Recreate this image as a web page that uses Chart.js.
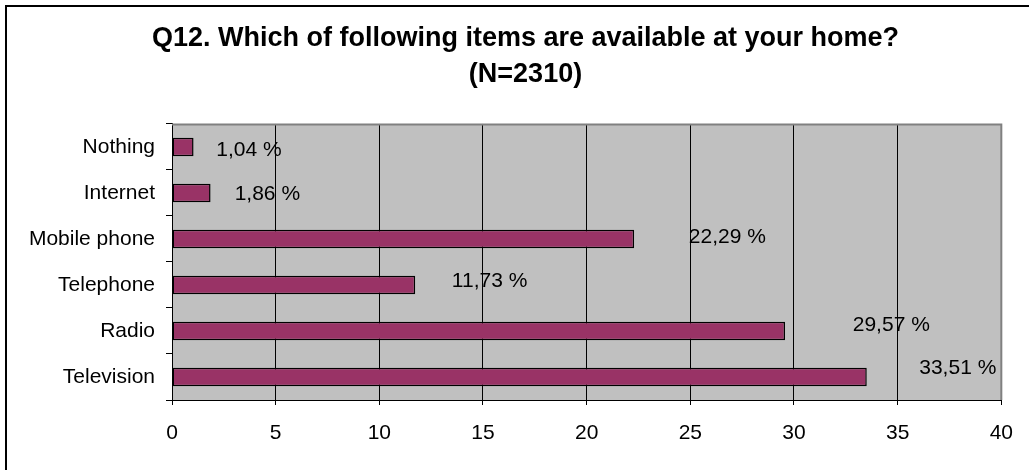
<!DOCTYPE html>
<html>
<head>
<meta charset="utf-8">
<script src="https://cdn.jsdelivr.net/npm/chart.js@4/dist/chart.umd.min.js"></script>
<style>
  html, body { margin: 0; padding: 0; background: #fff; overflow: hidden; }
  #wrap { position: relative; width: 1029px; height: 470px; }
  #frame { position: absolute; left: 5px; top: 5px; width: 1100px; height: 600px;
           border-left: 2px solid #000; border-top: 2px solid #000; pointer-events: none; }
  canvas { position: absolute; left: 0; top: 0; }
</style>
</head>
<body>
<div id="wrap">
  <canvas id="grafico" width="1029" height="470"></canvas>
  <div id="frame"></div>
</div>
<script>
var categorias = ['Nothing', 'Internet', 'Mobile phone', 'Telephone', 'Radio', 'Television'];
var valores = [1.04, 1.86, 22.29, 11.73, 29.57, 33.51];
var ticksX = [0, 5, 10, 15, 20, 25, 30, 35, 40];

var fuente = 'Liberation Sans, Arial, sans-serif';

// fondo gris del area de trazado y borde gris arriba / derecha
var fondoPlugin = {
    id: 'fondo',
    afterLayout: function (chart) {
        // el titulo en Excel queda un poco a la derecha
        if (chart.titleBlock) chart.titleBlock.left += 44;
    },
    beforeDraw: function (chart) {
        var a = chart.chartArea, ctx = chart.ctx;
        ctx.save();
        ctx.fillStyle = '#c0c0c0';
        ctx.fillRect(a.left, a.top, a.right - a.left, a.bottom - a.top);
        ctx.restore();
    },
    beforeDatasetsDraw: function (chart) {
        var a = chart.chartArea, ctx = chart.ctx;
        ctx.save();
        ctx.strokeStyle = '#808080';
        ctx.lineWidth = 2;
        ctx.beginPath();
        ctx.moveTo(a.left, a.top + 0.5);
        ctx.lineTo(a.right, a.top + 0.5);
        ctx.lineTo(a.right, a.bottom);
        ctx.stroke();
        ctx.restore();
    }
};

// etiquetas de valor al estilo Excel
var etiquetasPlugin = {
    id: 'etiquetas',
    afterDatasetsDraw: function (chart) {
        var ctx = chart.ctx, xs = chart.scales.x, a = chart.chartArea;
        var meta = chart.getDatasetMeta(0);
        ctx.save();
        ctx.font = '21px ' + fuente;
        ctx.fillStyle = '#000';
        ctx.textAlign = 'center';
        ctx.textBaseline = 'middle';
        meta.data.forEach(function (bar, i) {
            var v = valores[i];
            var txt = v.toFixed(2).replace('.', ',') + ' %';
            var w = ctx.measureText(txt).width;
            var cx = xs.getPixelForValue(v * 1.086 + 2.58);
            cx = Math.min(cx, a.right - w / 2 - 5);
            var cy = bar.y + 3.5 - 2.4 * i;
            ctx.fillText(txt, cx, cy);
        });
        ctx.restore();
    }
};

var chart = new Chart(document.getElementById('grafico').getContext('2d'), {
    type: 'bar',
    data: {
        labels: categorias,
        datasets: [{
            data: valores,
            backgroundColor: '#993366',
            borderColor: '#000',
            borderWidth: 1.5,
            borderSkipped: false,
            barPercentage: 0.4,
            categoryPercentage: 1
        }]
    },
    options: {
        indexAxis: 'y',
        responsive: false,
        animation: false,
        layout: { padding: { left: 5, right: 27, top: 0, bottom: 0 } },
        scales: {
            x: {
                min: 0,
                max: 40,
                afterBuildTicks: function (scale) {
                    scale.ticks = ticksX.map(function (v) { return { value: v }; });
                },
                afterFit: function (scale) { scale.height = 70; },
                ticks: {
                    color: '#000',
                    padding: 16,
                    maxRotation: 0,
                    font: { family: fuente, size: 21 }
                },
                grid: {
                    color: function (c) { return c.tick && c.tick.value === 40 ? '#808080' : '#000'; },
                    tickColor: '#000',
                    lineWidth: 1,
                    tickLength: 5
                },
                border: { display: true, color: '#000', width: 1 }
            },
            y: {
                afterFit: function (scale) { scale.width = 167; },
                ticks: {
                    color: '#000',
                    padding: 11,
                    font: { family: fuente, size: 21 }
                },
                grid: {
                    drawOnChartArea: false,
                    offset: true,
                    color: '#000',
                    tickLength: 6
                },
                border: { display: true, color: '#000', width: 1 }
            }
        },
        plugins: {
            legend: { display: false },
            tooltip: { enabled: false },
            title: {
                display: true,
                text: ['Q12. Which of following items are available at your home?', '(N=2310)'],
                color: '#000',
                font: { family: fuente, size: 27, weight: 'bold', lineHeight: 1.333 },
                padding: { top: 21, bottom: 31 }
            }
        }
    },
    plugins: [fondoPlugin, etiquetasPlugin]
});
</script>
</body>
</html>
